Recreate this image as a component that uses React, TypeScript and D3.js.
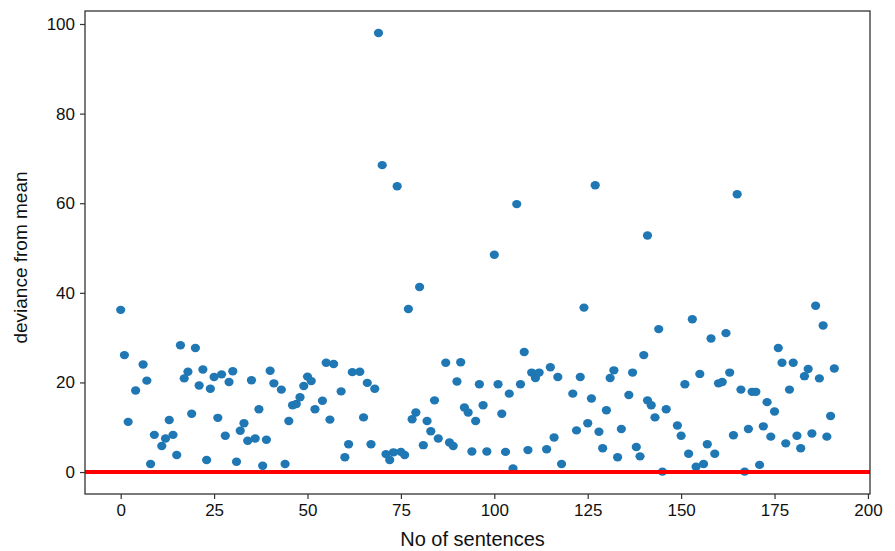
import * as d3 from "d3";
import React from "react";

// sentence index and deviance
const sentenceNo = [
  0, 1, 2, 4, 6, 7, 8, 9, 11, 12, 13, 14, 15, 16, 17, 18, 19, 20, 21, 22, 23, 24, 25, 26, 27, 28, 29, 30, 31, 32,
  33, 34, 35, 36, 37, 38, 39, 40, 41, 43, 44, 45, 46, 47, 48, 49, 50, 51, 52, 54, 55, 56, 57, 59, 60, 61, 62, 64, 65, 66,
  67, 68, 69, 70, 71, 72, 73, 74, 75, 76, 77, 78, 79, 80, 81, 82, 83, 84, 85, 87, 88, 89, 90, 91, 92, 93, 94, 95, 96, 97,
  98, 100, 101, 102, 103, 104, 105, 106, 107, 108, 109, 110, 111, 112, 114, 115, 116, 117, 118, 121, 122, 123, 124, 125, 126, 127, 128, 129, 130,
  131, 132, 133, 134, 136, 137, 138, 139, 140, 141, 141, 142, 143, 144, 145, 146, 149, 150, 151, 152, 153, 154, 155, 156, 157, 158, 159, 160,
  161, 162, 163, 164, 165, 166, 167, 168, 169, 170, 171, 172, 173, 174, 175, 176, 177, 178, 179, 180, 181, 182, 183, 184, 185, 186, 187, 188,
  189, 190, 191
];
const deviance = [
  36.2, 26.1, 11.2, 18.2, 24.0, 20.4, 1.8, 8.3, 5.8, 7.5, 11.6, 8.3, 3.8, 28.3, 20.9, 22.4, 13.0, 27.7, 19.3, 22.9, 2.7, 18.6, 21.2, 12.1, 21.8, 8.1, 20.1, 22.5, 2.3, 9.2,
  10.9, 7.0, 20.5, 7.5, 14.0, 1.4, 7.2, 22.6, 19.8, 18.4, 1.8, 11.4, 14.9, 15.2, 16.7, 19.2, 21.3, 20.3, 14.0, 15.9, 24.4, 11.7, 24.1, 18.0, 3.3, 6.2, 22.3, 22.4, 12.2, 19.9,
  6.2, 18.6, 98.0, 68.5, 4.0, 2.7, 4.4, 63.8, 4.5, 3.8, 36.4, 11.8, 13.3, 41.3, 6.0, 11.4, 9.1, 16.0, 7.5, 24.4, 6.6, 5.8, 20.2, 24.5, 14.4, 13.3, 4.6, 11.4, 19.6, 14.9,
  4.6, 48.5, 19.6, 13.0, 4.5, 17.5, 0.8, 59.8, 19.6, 26.8, 4.9, 22.2, 21.0, 22.2, 5.1, 23.4, 7.7, 21.2, 1.8, 17.5, 9.3, 21.2, 36.7, 10.9, 16.4, 64.0, 9.0, 5.3, 13.8,
  21.0, 22.7, 3.3, 9.6, 17.2, 22.2, 5.6, 3.5, 26.1, 16.0, 52.8, 14.9, 12.2, 31.9, 0.1, 14.0, 10.4, 8.1, 19.6, 4.1, 34.1, 1.2, 21.9, 1.8, 6.2, 29.8, 4.1, 19.8,
  20.1, 31.0, 22.2, 8.2, 62.0, 18.4, 0.1, 9.6, 17.9, 17.9, 1.6, 10.2, 15.6, 7.9, 13.5, 27.7, 24.4, 6.4, 18.4, 24.4, 8.1, 5.3, 21.4, 23.0, 8.6, 37.1, 20.9, 32.7,
  7.9, 12.5, 23.1
];
const xTicks = [0, 25, 50, 75, 100, 125, 150, 175, 200];
const yTicks = [0, 20, 40, 60, 80, 100];

const App = () => {
  const ref = React.useRef<SVGSVGElement>(null);

  React.useEffect(() => {
    const w = 895;
    const h = 551;
    const left = 85, right = 870, top = 11, bottom = 494;
    const svg = d3.select(ref.current);
    svg.selectAll("*").remove();

    const x = d3.scaleLinear().domain([-9.55, 200.55]).range([left, right]);
    const y = d3.scaleLinear().domain([-4.9, 102.9]).range([bottom, top]);

    // points
    svg.append("g")
      .selectAll("ellipse")
      .data(d3.range(sentenceNo.length))
      .enter()
      .append("ellipse")
      .attr("cx", i => x(sentenceNo[i]))
      .attr("cy", i => y(deviance[i]))
      .attr("rx", 4.6)
      .attr("ry", 4.2)
      .style("fill", "#1f77b4");

    // zero line
    svg.append("line")
      .attr("x1", left)
      .attr("x2", right)
      .attr("y1", y(0))
      .attr("y2", y(0))
      .style("stroke", "#ff0000")
      .style("stroke-width", 4);

    // frame
    svg.append("rect")
      .attr("x", left)
      .attr("y", top)
      .attr("width", right - left)
      .attr("height", bottom - top)
      .style("fill", "none")
      .style("stroke", "#333")
      .style("stroke-width", 1.3);

    const xAxis = d3.axisBottom(x).tickValues(xTicks).tickSize(5).tickPadding(5);
    const yAxis = d3.axisLeft(y).tickValues(yTicks).tickSize(5).tickPadding(5);

    const gx = svg.append("g")
      .attr("transform", "translate(0," + bottom + ")")
      .call(xAxis);
    const gy = svg.append("g")
      .attr("transform", "translate(" + left + ",0)")
      .call(yAxis);

    [gx, gy].forEach(g => {
      g.select(".domain").remove();
      g.selectAll("line").style("stroke", "#333").style("stroke-width", 1.2);
      g.selectAll("text")
        .style("font-family", "'Liberation Sans', Arial, sans-serif")
        .style("font-size", "17px")
        .style("fill", "#111");
    });

    // axis titles
    svg.append("text")
      .attr("x", (left + right) / 2 - 5)
      .attr("y", 546)
      .attr("text-anchor", "middle")
      .style("font-family", "'Liberation Sans', Arial, sans-serif")
      .style("font-size", "20px")
      .style("fill", "#111")
      .text("No of sentences");

    svg.append("text")
      .attr("transform", "translate(27," + ((top + bottom) / 2 + 5) + ") rotate(-90)")
      .attr("text-anchor", "middle")
      .style("font-family", "'Liberation Sans', Arial, sans-serif")
      .style("font-size", "19px")
      .style("fill", "#111")
      .text("deviance from mean");

    svg.attr("width", w).attr("height", h);
  }, []);

  return (
    <svg
      ref={ref}
      width={895}
      height={551}
      style={{ position: "absolute", left: 0, top: 0, background: "#fff" }}
    />
  );
};

export default App;
